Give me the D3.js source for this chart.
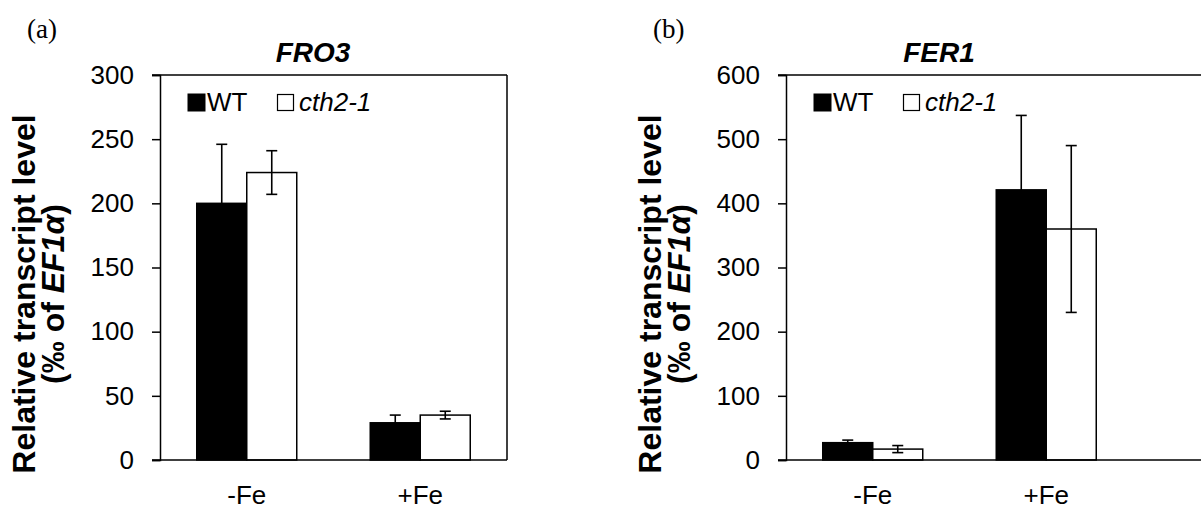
<!DOCTYPE html>
<html>
<head>
<meta charset="utf-8">
<script src="https://cdn.jsdelivr.net/npm/d3@7"></script>
<style>
  html, body { margin: 0; padding: 0; background: #fff; }
  svg { display: block; }
  text { font-family: "Liberation Sans", Arial, sans-serif; fill: #000; }
</style>
</head>
<body>
<svg id="chart" width="1201" height="511"></svg>
<script>
// ---- data ----
const categories = ["-Fe", "+Fe"];
const seriesNames = ["WT", "cth2-1"];

const fro3WT = [200, 29];
const fro3WTErr = [46, 6];
const fro3Cth2 = [224, 35];
const fro3Cth2Err = [17, 3];

const fer1WT = [27, 421];
const fer1WTErr = [4, 116];
const fer1Cth2 = [17, 360];
const fer1Cth2Err = [5.5, 130];

const fro3Ticks = [0, 50, 100, 150, 200, 250, 300];
const fer1Ticks = [0, 100, 200, 300, 400, 500, 600];

// ---- layout ----
const svg = d3.select("#chart");
const panels = [
  { tag: "(a)", title: "FRO3", x0: 160, x1: 507, frameRight: 507, closed: true,
    ymax: 300, ticks: fro3Ticks,
    series: [ {vals: fro3WT, errs: fro3WTErr, fill: "#000"}, {vals: fro3Cth2, errs: fro3Cth2Err, fill: "#fff"} ] },
  { tag: "(b)", title: "FER1", x0: 786, x1: 1133, frameRight: 1215, closed: false,
    ymax: 600, ticks: fer1Ticks,
    series: [ {vals: fer1WT, errs: fer1WTErr, fill: "#000"}, {vals: fer1Cth2, errs: fer1Cth2Err, fill: "#fff"} ] }
];
const plotTop = 75, plotBottom = 460;

panels.forEach(p => {
  const g = svg.append("g");
  const y = d3.scaleLinear().domain([0, p.ymax]).range([plotBottom, plotTop]);
  const x = d3.scaleBand().domain(categories).range([p.x0, p.x1]).paddingInner(0.4236).paddingOuter(0.2118);
  const xs = d3.scaleBand().domain(seriesNames).range([0, x.bandwidth()]);

  // frame (top + right)
  g.append("line").attr("x1", p.x0 - 8).attr("x2", p.frameRight).attr("y1", plotTop).attr("y2", plotTop)
    .attr("stroke", "#000").attr("stroke-width", 1.5);
  if (p.closed) {
    g.append("line").attr("x1", p.frameRight).attr("x2", p.frameRight).attr("y1", plotTop).attr("y2", plotBottom)
      .attr("stroke", "#000").attr("stroke-width", 1.5);
  }

  // bars
  p.series.forEach((s, si) => {
    categories.forEach((c, ci) => {
      const bx = x(c) + xs(seriesNames[si]);
      g.append("rect")
        .attr("x", bx).attr("y", y(s.vals[ci]))
        .attr("width", xs.bandwidth()).attr("height", y(0) - y(s.vals[ci]))
        .attr("fill", s.fill).attr("stroke", "#000").attr("stroke-width", 1.5);
    });
  });
  // error bars
  p.series.forEach((s, si) => {
    categories.forEach((c, ci) => {
      const cx = x(c) + xs(seriesNames[si]) + xs.bandwidth() / 2;
      const hi = y(s.vals[ci] + s.errs[ci]);
      const lo = y(Math.max(0, s.vals[ci] - s.errs[ci]));
      g.append("line").attr("x1", cx).attr("x2", cx).attr("y1", hi).attr("y2", lo)
        .attr("stroke", "#000").attr("stroke-width", 1.6);
      [hi, lo].forEach(v => {
        g.append("line").attr("x1", cx - 5.5).attr("x2", cx + 5.5).attr("y1", v).attr("y2", v)
          .attr("stroke", "#000").attr("stroke-width", 1.6);
      });
    });
  });

  // y axis
  const yAxis = d3.axisLeft(y).tickValues(p.ticks).tickSize(8).tickPadding(18).tickFormat(d3.format("d"));
  const ya = g.append("g").attr("transform", `translate(${p.x0},0)`).call(yAxis);
  ya.select(".domain").attr("stroke-width", 1.5);
  ya.selectAll(".tick line").attr("stroke-width", 1.5);
  ya.selectAll(".tick text").attr("font-size", 26).attr("font-family", "Liberation Sans, Arial, sans-serif").attr("fill", "#000");

  // x axis
  const xAxis = d3.axisBottom(x).tickSize(0).tickPadding(26);
  const xa = g.append("g").attr("transform", `translate(0,${plotBottom})`).call(xAxis);
  xa.select(".domain").remove();
  g.append("line").attr("x1", p.x0 - 8).attr("x2", p.frameRight).attr("y1", plotBottom).attr("y2", plotBottom)
    .attr("stroke", "#000").attr("stroke-width", 1.5);
  xa.selectAll(".tick text").attr("font-size", 26).attr("font-family", "Liberation Sans, Arial, sans-serif").attr("fill", "#000");

  // title
  g.append("text").attr("x", p.x0 + 153).attr("y", 62).attr("text-anchor", "middle")
    .attr("font-size", 28).attr("font-weight", "bold").attr("font-style", "italic").text(p.title);

  // panel tag
  g.append("text").attr("x", p.x0 - 133).attr("y", 38)
    .style("font-family", "'Liberation Serif', 'Times New Roman', serif")
    .attr("font-size", 27).text(p.tag);

  // legend
  const lg = g.append("g");
  lg.append("rect").attr("x", p.x0 + 28).attr("y", 94).attr("width", 17).attr("height", 17)
    .attr("fill", "#000").attr("stroke", "#000").attr("stroke-width", 1);
  lg.append("text").attr("x", p.x0 + 47).attr("y", 111).attr("font-size", 26).text(seriesNames[0]);
  lg.append("rect").attr("x", p.x0 + 117.5).attr("y", 94.5).attr("width", 16).attr("height", 16)
    .attr("fill", "#fff").attr("stroke", "#000").attr("stroke-width", 1.2);
  lg.append("text").attr("x", p.x0 + 139).attr("y", 111).attr("font-size", 26)
    .attr("font-style", "italic").text(seriesNames[1]);

  // y label
  const lx = p.x0 - 160;
  g.append("text").attr("transform", `translate(${lx + 35},294) rotate(-90)`)
    .attr("text-anchor", "middle").attr("font-size", 32).attr("font-weight", "bold")
    .text("Relative transcript level");
  const yl2 = g.append("text").attr("transform", `translate(${lx + 64},294) rotate(-90)`)
    .attr("text-anchor", "middle").attr("font-size", 32).attr("font-weight", "bold");
  yl2.append("tspan").text("(‰ of ");
  yl2.append("tspan").attr("font-style", "italic").text("EF1α");
  yl2.append("tspan").text(")");
});
</script>
</body>
</html>
